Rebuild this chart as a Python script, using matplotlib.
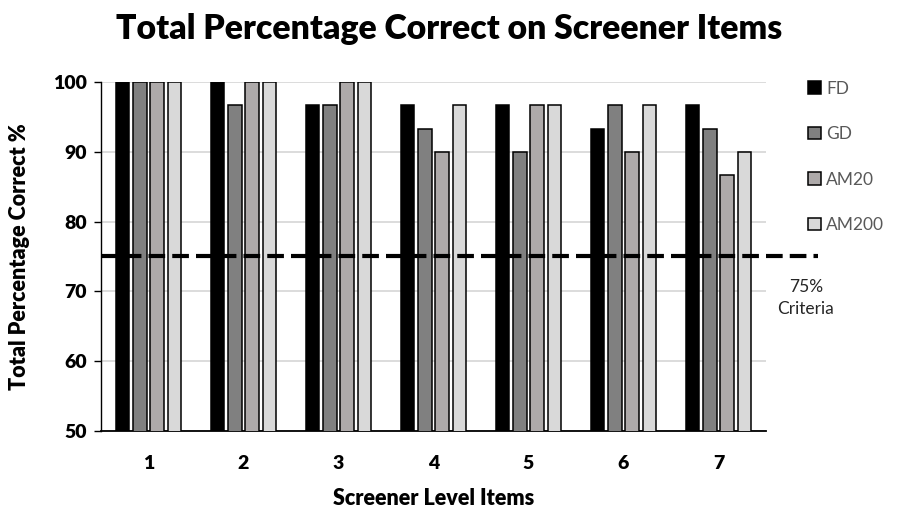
import numpy as np
import matplotlib.pyplot as plt

# screener data (percent correct, 30 participants per group)
items = ["1", "2", "3", "4", "5", "6", "7"]
fd = [100, 100, 96.67, 96.67, 96.67, 93.33, 96.67]
gd = [100, 96.67, 96.67, 93.33, 90, 96.67, 93.33]
am20 = [100, 100, 100, 90, 96.67, 90, 86.67]
am200 = [100, 100, 100, 96.67, 96.67, 96.67, 90]
series = ["FD", "GD", "AM20", "AM200"]
criteria = 75

plt.rcParams['font.family'] = ['Lato', 'DejaVu Sans']

fig = plt.figure(figsize=(8.98, 5.14), dpi=100)
ax = fig.add_axes([0.1125, 0.1615, 0.7405, 0.679])

colors = ['#000000', '#808080', '#AEAAAA', '#D9D9D9']
x = np.arange(len(items))
pitch = 0.182
width = 0.142
handles = []
for i, (vals, name) in enumerate(zip([fd, gd, am20, am200], series)):
    b = ax.bar(x + (i - 1.5) * pitch, vals, width, color=colors[i],
               edgecolor='black', linewidth=1.1, label=name, zorder=3)
    handles.append(b)

ax.set_ylim(50, 100)
ax.set_xlim(-0.5, 6.5)
ax.set_yticks([50, 60, 70, 80, 90, 100])
ax.set_xticks(x)
ax.set_xticklabels(items)
ax.tick_params(axis='x', length=0, pad=17, labelsize=14)
ax.tick_params(axis='y', length=5, width=1, direction='out', pad=5, labelsize=14)
for lab in ax.get_xticklabels() + ax.get_yticklabels():
    lab.set_fontweight('heavy')

ax.grid(axis='y', color='#D9D9D9', linewidth=1.3, zorder=0)
ax.set_axisbelow(True)
for s in ['top', 'right']:
    ax.spines[s].set_visible(False)
ax.spines['left'].set_linewidth(1)
ax.spines['bottom'].set_linewidth(1.3)

# 75% criteria line, runs past the plot edge
ax.plot([-0.5, 7.05], [criteria, criteria], color='black', linewidth=3,
        dashes=(4, 1.7), clip_on=False, zorder=4)
ax.text(1.06, 0.436, "75%\nCriteria", transform=ax.transAxes, ha='center',
        va='top', fontsize=12.5, linespacing=1.5, color='#262626')

ax.set_ylabel("Total Percentage Correct %", fontsize=15.5, fontweight='heavy', labelpad=17)
ax.set_xlabel("Screener Level Items", fontsize=15.5, fontweight='heavy', labelpad=12)
fig.suptitle("Total Percentage Correct on Screener Items", fontsize=24.3,
             fontweight='heavy', x=0.5, y=0.975)

ax.legend(handles=handles, loc='upper left', bbox_to_anchor=(1.05, 1.029),
          frameon=False, fontsize=12.5, handlelength=0.75, handleheight=0.75,
          handletextpad=0.3, labelspacing=1.7, borderpad=0, labelcolor='#595959')

fig.savefig('out.png', dpi=100)
